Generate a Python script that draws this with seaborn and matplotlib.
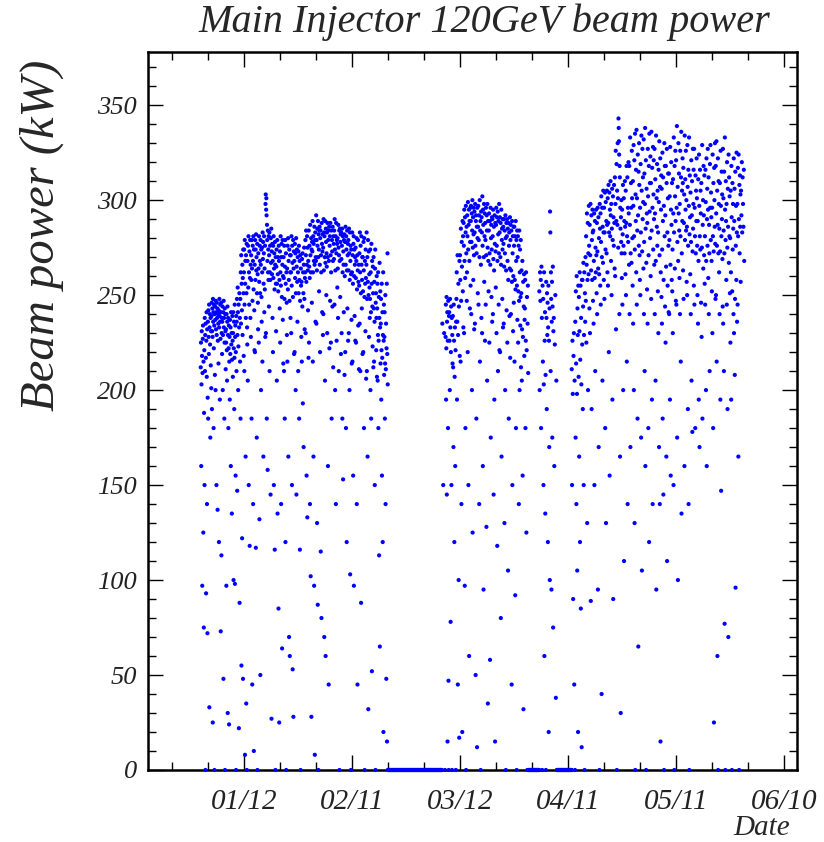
import pandas as pd
import matplotlib
matplotlib.use("Agg")
import matplotlib.pyplot as plt
from matplotlib.ticker import FixedLocator, NullFormatter, MultipleLocator
import matplotlib.dates as mdates
import seaborn as sns

# Beam power readings (kW), one inner list per calendar day, in time order
run1_start = "2007-12-31"
run1_kw = [
    [212, 225, 160, 203, 231, 218, 97, 209, 227, 234, 125, 215, 75, 188],
    [221, 150, 238, 210, 229, 0, 235, 217, 93, 226, 241, 207, 140, 232, 72, 196],
    [236, 185, 242, 228, 219, 245, 33, 233, 240, 224, 175, 238, 213, 231, 201],
    [239, 246, 190, 231, 243, 228, 25, 248, 236, 241, 180, 222, 245, 234, 0, 240, 208],
    [244, 237, 200, 247, 232, 241, 150, 229, 246, 238, 243, 137, 226, 240, 235, 214],
    [242, 120, 233, 248, 239, 195, 236, 245, 227, 73, 241, 246, 113, 230, 238, 219],
    [236, 244, 200, 229, 241, 48, 247, 233, 238, 185, 225, 243, 0, 240, 231, 211],
    [232, 225, 97, 240, 221, 205, 236, 244, 30, 229, 238, 180, 222, 234, 24, 215],
    [228, 195, 237, 219, 233, 160, 241, 224, 230, 135, 216, 239, 226, 207],
    [230, 241, 100, 222, 236, 190, 217, 245, 98, 228, 234, 155, 220, 0, 239, 210],
    [236, 248, 147, 229, 254, 241, 200, 223, 245, 22, 233, 251, 88, 238, 215],
    [248, 185, 262, 235, 271, 55, 256, 242, 122, 266, 229, 259, 48, 274, 251, 218],
    [262, 274, 210, 245, 279, 8, 256, 268, 165, 238, 271, 35, 251, 277, 0, 233, 224],
    [268, 205, 276, 254, 281, 150, 262, 245, 273, 118, 259, 279, 238, 266, 228],
    [271, 258, 185, 279, 264, 45, 247, 276, 268, 140, 281, 253, 10, 274, 242, 221],
    [266, 220, 279, 258, 274, 117, 282, 263, 270, 175, 251, 277, 0, 261, 246, 232],
    [272, 264, 225, 281, 257, 132, 276, 268, 251, 50, 279, 266, 200, 274, 249, 236],
    [275, 262, 215, 283, 269, 278, 165, 256, 272, 281, 241, 264, 253, 276, 228],
    [298, 303, 230, 295, 301, 292, 185, 287, 279, 268, 158, 284, 262, 274, 258, 281, 244],
    [271, 283, 210, 262, 276, 258, 145, 280, 267, 285, 27, 273, 261, 277, 238],
    [268, 220, 276, 259, 281, 150, 264, 272, 253, 116, 278, 266, 0, 270, 256, 231],
    [265, 274, 205, 256, 279, 135, 261, 270, 252, 85, 276, 268, 25, 258, 243],
    [273, 225, 262, 281, 255, 140, 270, 277, 249, 64, 266, 279, 237, 260, 214],
    [270, 259, 210, 276, 248, 185, 265, 279, 120, 256, 272, 0, 262, 246, 229],
    [264, 215, 276, 253, 280, 165, 268, 258, 70, 274, 247, 60, 271, 262, 238],
    [271, 262, 230, 281, 255, 150, 276, 267, 53, 249, 279, 28, 264, 273, 219],
    [268, 220, 277, 259, 272, 200, 251, 280, 145, 265, 274, 257, 236, 270],
    [262, 210, 273, 251, 276, 185, 258, 268, 116, 247, 271, 0, 264, 255, 228],
    [257, 215, 269, 244, 272, 193, 262, 251, 170, 266, 275, 248, 232, 259],
    [262, 279, 230, 271, 284, 257, 155, 266, 281, 133, 275, 263, 242, 268, 217],
    [284, 225, 265, 276, 259, 140, 287, 271, 102, 262, 280, 28, 274, 246, 278],
    [273, 289, 215, 262, 281, 165, 277, 268, 97, 286, 266, 8, 279, 283, 236, 270],
    [268, 292, 235, 279, 263, 130, 285, 276, 87, 289, 270, 0, 282, 274, 252, 284],
    [286, 266, 220, 280, 284, 115, 271, 262, 80, 288, 277, 241, 273, 282, 229],
    [275, 240, 290, 263, 283, 70, 281, 270, 205, 289, 267, 60, 285, 278, 250, 272],
    [265, 283, 230, 288, 270, 160, 279, 284, 45, 268, 286, 222, 276, 281, 247],
    [288, 271, 225, 262, 284, 185, 279, 273, 244, 286, 268, 212, 281, 277],
    [269, 284, 245, 290, 274, 200, 263, 281, 140, 288, 272, 226, 279, 277, 254],
    [280, 264, 238, 287, 275, 210, 271, 284, 0, 268, 285, 249, 278, 282, 219],
    [283, 269, 230, 276, 285, 185, 262, 281, 153, 273, 266, 241, 279, 282, 208],
    [260, 278, 220, 286, 266, 180, 281, 274, 120, 263, 284, 243, 271, 277, 226],
    [279, 263, 230, 285, 272, 200, 258, 283, 103, 268, 276, 0, 261, 274, 237, 214],
    [262, 283, 215, 271, 256, 155, 277, 281, 97, 260, 274, 239, 266, 270, 226],
    [275, 259, 225, 268, 280, 140, 253, 271, 45, 263, 279, 234, 257, 266, 211],
    [255, 272, 235, 283, 262, 210, 276, 251, 88, 281, 266, 243, 258, 270, 219],
    [270, 252, 220, 278, 263, 180, 280, 249, 0, 268, 256, 231, 274, 259, 206],
    [266, 283, 210, 248, 270, 165, 257, 279, 32, 250, 273, 228, 261, 254, 238],
    [248, 274, 200, 262, 241, 185, 277, 256, 52, 268, 244, 223, 265, 251, 212],
    [270, 243, 215, 257, 236, 150, 264, 274, 0, 246, 251, 221, 238, 260, 207],
    [243, 256, 205, 229, 262, 180, 226, 249, 113, 238, 267, 65, 233, 252, 214],
    [235, 248, 195, 221, 256, 155, 217, 241, 120, 229, 262, 20, 226, 245, 208],
    [228, 241, 185, 214, 250, 140, 211, 235, 48, 222, 256, 15, 219, 272, 203],
]

run2_start = "2008-03-07"
run2_kw = [
    [235, 150, 230, 0],
    [228, 245, 195, 222, 249, 145, 236, 241, 15, 226, 180, 247, 47, 0, 239],
    [241, 226, 200, 248, 233, 78, 220, 244, 150, 238, 0, 229, 214],
    [239, 212, 170, 245, 226, 120, 207, 233, 160, 221, 0, 236],
    [248, 262, 195, 236, 271, 45, 229, 256, 100, 244, 17, 268, 218],
    [271, 258, 215, 285, 247, 140, 278, 265, 20, 289, 252, 281, 233],
    [288, 276, 230, 295, 268, 97, 291, 259, 180, 283, 297, 0, 272, 286, 247, 262],
    [292, 281, 220, 299, 274, 150, 287, 295, 60, 268, 289, 243, 278, 296, 255],
    [289, 297, 240, 278, 293, 200, 284, 300, 125, 275, 291, 258, 282, 296, 271, 232],
    [294, 283, 235, 298, 276, 50, 289, 292, 185, 272, 286, 12, 296, 280, 251],
    [286, 297, 245, 279, 292, 140, 270, 300, 215, 284, 289, 0, 266, 294, 238],
    [291, 283, 230, 302, 276, 160, 295, 287, 95, 270, 298, 257, 281, 293, 226],
    [288, 279, 245, 296, 271, 128, 292, 284, 205, 298, 275, 35, 289, 268, 252],
    [284, 293, 225, 272, 289, 58, 266, 296, 175, 280, 287, 249, 274, 291, 236],
    [290, 281, 240, 295, 269, 145, 286, 263, 195, 292, 277, 15, 288, 273, 254],
    [287, 296, 230, 276, 291, 118, 268, 294, 210, 282, 289, 245, 272, 298, 221],
    [283, 291, 220, 270, 288, 80, 266, 295, 165, 279, 285, 248, 274, 290, 233],
    [286, 277, 235, 290, 265, 130, 284, 272, 200, 292, 280, 0, 263, 288, 242],
    [281, 290, 225, 268, 285, 105, 258, 288, 185, 276, 283, 239, 264, 291, 217],
    [279, 287, 240, 263, 284, 45, 257, 289, 150, 272, 281, 231, 260, 286, 246],
    [276, 286, 215, 258, 281, 92, 253, 289, 180, 268, 279, 0, 255, 284, 237],
    [270, 281, 225, 252, 276, 140, 247, 284, 200, 262, 274, 234, 249, 279, 212],
    [251, 263, 205, 232, 268, 155, 228, 257, 32, 244, 261, 218, 237],
    [243, 258, 180, 226, 262, 125, 221, 249, 0, 235, 255, 209],
]

run3_start = "2008-04-03"
run3_kw = [
    [252, 200, 262, 247, 258, 180, 265, 238, 0, 255],
    [215, 248, 150, 203, 262, 60, 226, 241, 135, 208, 0, 257],
    [238, 190, 251, 229, 246, 120, 233, 255, 20, 226, 170, 243, 100],
    [294, 283, 210, 262, 248, 95, 236, 257, 175, 244, 265, 75, 231],
    [238, 160, 224, 250, 38, 205, 0],
]

run4_start = "2008-04-12"
run4_kw = [
    [211, 150, 226, 198, 90, 218, 230, 45, 205, 0],
    [236, 175, 252, 214, 140, 260, 198, 105, 243, 229, 20, 255, 207],
    [249, 165, 231, 262, 120, 216, 255, 85, 238, 203, 12, 258, 224],
    [258, 190, 244, 267, 150, 229, 262, 0, 251, 236, 270, 247],
    [281, 225, 266, 293, 130, 258, 288, 200, 272, 261, 297, 276, 243],
    [287, 230, 271, 298, 89, 263, 292, 190, 279, 258, 295, 283, 247],
    [284, 235, 268, 293, 150, 259, 289, 210, 275, 262, 295, 271, 251],
    [288, 240, 273, 296, 95, 264, 291, 170, 280, 261, 0, 298, 285, 255],
    [293, 245, 278, 302, 40, 270, 296, 205, 286, 267, 305, 283, 258],
    [296, 248, 283, 304, 180, 274, 299, 130, 289, 272, 305, 287, 262],
    [301, 255, 288, 308, 220, 283, 304, 155, 295, 281, 310, 292, 268],
    [298, 250, 285, 306, 195, 279, 302, 90, 291, 276, 308, 288, 264],
    [312, 260, 298, 326, 232, 289, 319, 0, 305, 287, 330, 301, 275],
    [343, 338, 331, 324, 240, 318, 312, 165, 296, 285, 30, 291, 278, 300, 272, 259],
    [295, 245, 282, 308, 200, 276, 301, 110, 289, 272, 310, 286, 261],
    [305, 250, 288, 318, 215, 281, 312, 140, 296, 278, 320, 293, 266],
    [318, 240, 287, 333, 170, 272, 309, 296, 267, 326, 301, 280, 255],
    [310, 235, 297, 329, 200, 281, 321, 130, 274, 335, 0, 303, 289, 316, 262],
    [337, 245, 301, 284, 185, 324, 292, 65, 315, 276, 330, 308, 271, 258],
    [296, 250, 319, 283, 175, 334, 305, 105, 273, 327, 290, 312, 299, 264],
    [332, 240, 278, 314, 210, 298, 338, 160, 285, 321, 0, 267, 306, 293, 253],
    [288, 235, 327, 302, 180, 271, 318, 120, 335, 294, 309, 280, 323, 260],
    [309, 248, 336, 284, 195, 317, 296, 140, 328, 274, 303, 321, 290, 266],
    [327, 240, 293, 311, 205, 268, 334, 95, 301, 286, 319, 276, 305, 252],
    [283, 230, 316, 299, 170, 331, 271, 140, 307, 322, 15, 262, 295, 313, 249],
    [306, 235, 274, 325, 185, 289, 312, 145, 258, 297, 0, 330, 281, 318, 244],
    [292, 225, 318, 265, 165, 309, 327, 110, 283, 255, 301, 314, 276, 241],
    [314, 240, 279, 302, 195, 328, 266, 155, 295, 320, 287, 258, 309, 252],
    [274, 230, 311, 293, 150, 333, 283, 0, 318, 264, 302, 326, 289, 247],
    [321, 245, 296, 339, 175, 278, 307, 100, 268, 330, 293, 314, 284, 259],
    [298, 240, 326, 281, 215, 312, 336, 135, 272, 305, 289, 322, 309, 263],
    [317, 248, 288, 303, 160, 334, 279, 311, 295, 326, 284, 300, 257],
    [286, 250, 329, 307, 190, 276, 316, 140, 297, 333, 0, 282, 313, 291, 261],
    [304, 240, 278, 321, 205, 292, 310, 178, 273, 327, 285, 298, 316, 255],
    [327, 245, 296, 281, 180, 313, 272, 305, 289, 322, 301, 276, 250],
    [289, 235, 311, 268, 195, 324, 297, 170, 281, 316, 274, 305, 293, 246],
    [309, 228, 275, 329, 185, 287, 300, 264, 318, 292, 271, 313, 256],
    [281, 245, 316, 299, 200, 268, 322, 160, 290, 306, 276, 327, 295, 259],
    [312, 240, 287, 272, 210, 319, 296, 329, 279, 304, 291, 268, 252],
    [296, 230, 324, 281, 180, 309, 273, 25, 317, 300, 286, 330, 277, 248],
    [318, 250, 293, 331, 215, 276, 305, 60, 287, 322, 0, 272, 310, 298, 262],
    [285, 240, 309, 273, 195, 326, 297, 147, 281, 315, 290, 303, 269, 244],
    [327, 235, 301, 284, 210, 315, 272, 77, 333, 295, 0, 279, 310, 289, 258],
    [298, 245, 320, 275, 190, 306, 286, 70, 324, 267, 312, 281, 302, 251],
    [280, 225, 305, 262, 195, 318, 291, 0, 252, 309, 274, 298, 285, 240],
    [322, 230, 289, 306, 208, 248, 315, 96, 276, 297, 258, 325, 283, 236],
    [298, 245, 317, 281, 165, 324, 290, 0, 308, 272, 313, 286, 303, 257],
    [305, 292, 320, 283, 312, 298, 286, 316, 268],
]

# Shutdown periods: logged every 2 hours with no beam
idle_start = ["2008-02-21", "2008-03-31", "2008-04-08"]
idle_end = ["2008-03-07", "2008-04-03", "2008-04-12"]

tick_dates = ["01/12", "02/11", "03/12", "04/11", "05/11", "06/10"]
y_ticks = [0, 50, 100, 150, 200, 250, 300, 350]


def daily_readings(start, days):
    times, kw = [], []
    t0 = pd.Timestamp(start)
    for k, vals in enumerate(days):
        step = pd.Timedelta(hours=24) / len(vals)
        for i, v in enumerate(vals):
            times.append(t0 + pd.Timedelta(days=k) + step * (i + 0.5))
            kw.append(v)
    return times, kw


times, kw = [], []
for start, days in [(run1_start, run1_kw), (run2_start, run2_kw),
                    (run3_start, run3_kw), (run4_start, run4_kw)]:
    t, v = daily_readings(start, days)
    times += t
    kw += v
for s, e in zip(idle_start, idle_end):
    t = pd.date_range(s, e, freq="2h")
    times += list(t)
    kw += [0] * len(t)

df = pd.DataFrame({"time": times, "kW": kw})

sns.set_style("ticks")
plt.rcParams["font.family"] = ["Liberation Serif", "DejaVu Serif"]

fig = plt.figure(figsize=(8.24, 8.42), dpi=100)
ax = fig.add_axes([148 / 824, 1 - 770 / 842, (797 - 148) / 824, (770 - 52) / 842])

sns.scatterplot(data=df, x="time", y="kW", ax=ax, color="#0000ff", s=9,
                linewidth=0, edgecolor="none", legend=False, clip_on=False,
                zorder=3)

ref = pd.Timestamp("2008-01-12")
ax.set_xlim(ref - pd.Timedelta(days=26.6), ref + pd.Timedelta(days=153.6))
ax.set_ylim(0, 378)

major_x = [pd.Timestamp("2008/" + d) for d in tick_dates]
ax.xaxis.set_major_locator(FixedLocator(mdates.date2num(major_x)))
ax.set_xticklabels(tick_dates)
minor_x = [ref + pd.Timedelta(days=10 * k) for k in range(-2, 16)]
ax.xaxis.set_minor_locator(FixedLocator(mdates.date2num(minor_x)))
ax.xaxis.set_minor_formatter(NullFormatter())

ax.set_yticks(y_ticks)
ax.set_yticklabels([str(v) for v in y_ticks])
ax.yaxis.set_minor_locator(MultipleLocator(10))

ax.tick_params(which="both", direction="in", top=True, right=True,
               color="black", width=1.0)
ax.tick_params(which="major", length=11)
ax.tick_params(which="minor", length=6)
ax.tick_params(axis="y", which="major", pad=8, labelsize=19)
ax.tick_params(axis="x", which="major", pad=14, labelsize=21)
for lab in ax.get_xticklabels() + ax.get_yticklabels():
    lab.set_fontstyle("italic")
    lab.set_color("#222222")

for sp in ax.spines.values():
    sp.set_linewidth(1.8)
    sp.set_color("black")

ax.set_xlabel("")
ax.set_ylabel("")
fig.text(790 / 824, 1 - 828 / 842, "Date", ha="right", va="center",
         fontsize=21, style="italic")
fig.text(42 / 824, 1 - 235 / 842, "Beam power (kW)", ha="center", va="center",
         rotation=90, fontsize=35, style="italic")
fig.text(484 / 824, 1 - 22 / 842, "Main Injector 120GeV beam power",
         ha="center", va="center", fontsize=29, style="italic")

fig.savefig("out.png", dpi=100)
